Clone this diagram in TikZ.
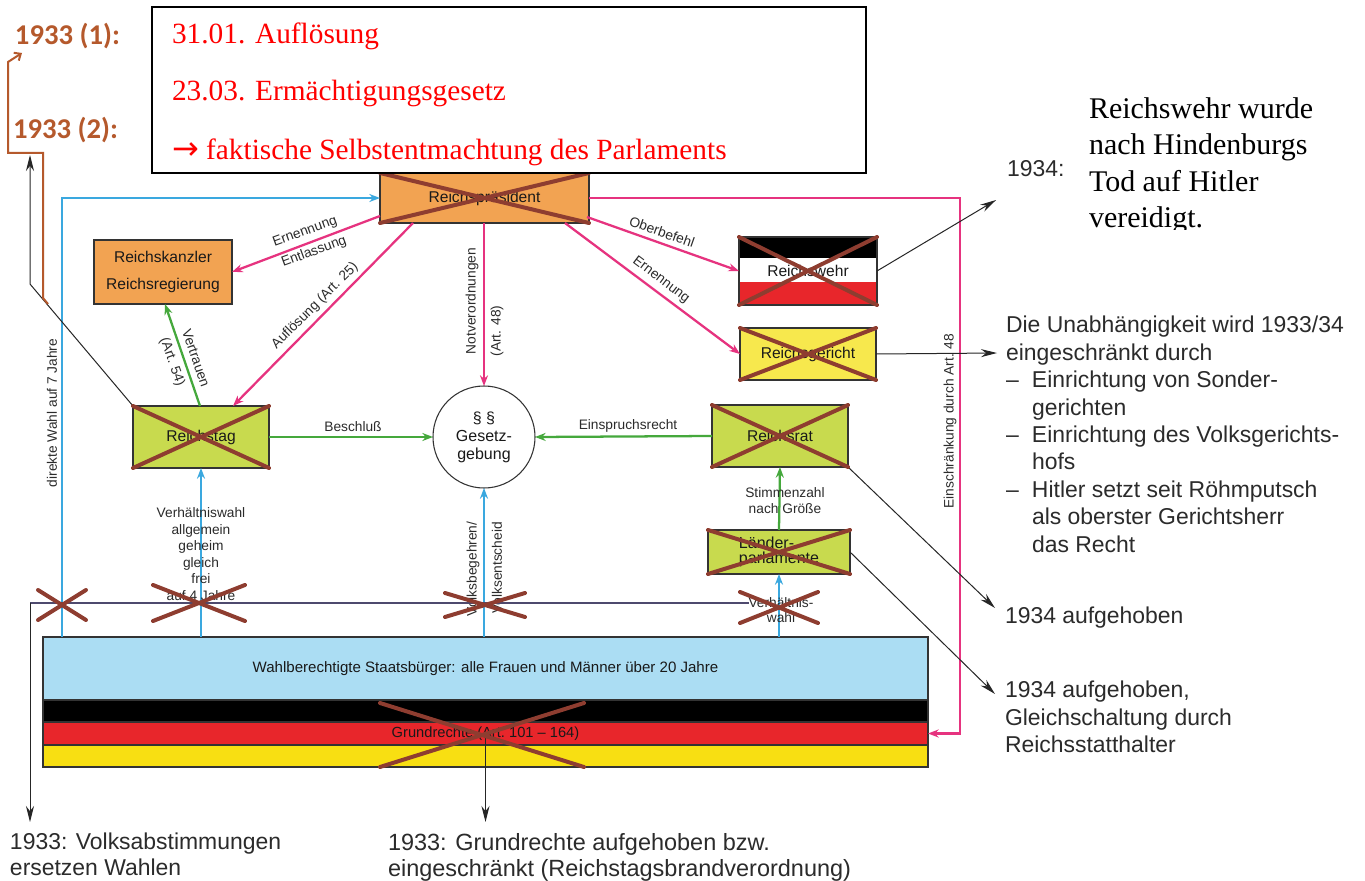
\documentclass[tikz,border=0pt]{standalone}
\usepackage{fontspec}
\setmainfont{Liberation Sans}
\newfontfamily\tnr{Liberation Serif}
\newfontfamily\calfont{Carlito}
\newfontfamily\djv{DejaVu Sans}
\usetikzlibrary{arrows.meta,calc}
\definecolor{mag}{HTML}{E6337F}
\definecolor{blu}{HTML}{3AA8DF}
\definecolor{grn}{HTML}{45A83C}
\definecolor{orng}{HTML}{F2A352}
\definecolor{ygrn}{HTML}{C8DA4E}
\definecolor{ylw}{HTML}{F7E84D}
\definecolor{lblu}{HTML}{ABDDF3}
\definecolor{fred}{HTML}{E8262B}
\definecolor{fylw}{HTML}{F8DF12}
\definecolor{xbrn}{HTML}{8E3D30}
\definecolor{tbrn}{HTML}{B5592C}
\definecolor{lbl}{HTML}{2B2B2B}
\definecolor{hlc}{HTML}{4E4A6E}
\begin{document}
\begin{tikzpicture}[x=0.75pt,y=-0.75pt,
  every node/.style={inner sep=0pt, outer sep=0pt},
  bx/.style={draw=black!80, line width=0.8pt, font=\fontsize{11.7}{14}\selectfont, text=black!90, align=center},
  lab/.style={font=\fontsize{10.3}{12.4}\selectfont, text=lbl, align=center},
  ann/.style={font=\fontsize{17.2}{20.6}\selectfont, text=lbl, align=left},
  redt/.style={font=\tnr\fontsize{22}{26}\selectfont, text=red},
  blkt/.style={font=\tnr\fontsize{22.5}{27}\selectfont, text=black},
  brt/.style={font=\calfont\bfseries\fontsize{21.5}{24}\selectfont, text=tbrn},
  magc/.style={draw=mag, line width=1.7pt, -{Stealth[length=8pt,width=6pt]}},
  bluc/.style={draw=blu, line width=1.9pt, -{Stealth[length=8pt,width=6pt]}},
  grnc/.style={draw=grn, line width=1.7pt, -{Stealth[length=8pt,width=6pt]}},
  blkc/.style={draw=black!85, line width=0.75pt, -{Stealth[length=12pt,width=6pt]}},
  brnc/.style={draw=tbrn, line width=1.5pt, -{Straight Barb[length=4pt,width=7pt]}},
  xl/.style={draw=xbrn, line width=3pt, line cap=round},
  hl/.style={draw=hlc, line width=1pt}
]
\fill[white] (0,0) rectangle (1365,881);
\useasboundingbox (0,0) rectangle (1365,881);

% ---------- boxes ----------
\node[bx, fill=orng, minimum width=156.75pt, minimum height=37.5pt] (rp) at (484.5,198) {Reichspräsident};
\node[bx, fill=orng, minimum width=103.5pt, minimum height=48pt, font=\fontsize{11.7}{20.25}\selectfont] (rk) at (163,272) {Reichskanzler\\Reichsregierung};
\node[bx, fill=ygrn, minimum width=102pt, minimum height=46.5pt] (rt) at (201,437) {Reichstag};
\node[bx, circle, fill=white, minimum size=76.5pt, font=\fontsize{12}{13.5}\selectfont] (gz) at (484,437) {§ §\\Gesetz-\\gebung};
\node[bx, fill=ygrn, minimum width=102pt, minimum height=46.5pt] (rr) at (780,436) {Reichsrat};
\node[bx, fill=ygrn, minimum width=106.5pt, minimum height=33pt, align=left, font=\fontsize{12}{11.5}\selectfont] (lp) at (779,552) {Länder-\\parlamente};
\node[bx, fill=white, minimum width=103.5pt, minimum height=51pt,
  path picture={
    \fill[black] (path picture bounding box.north west) rectangle ($(path picture bounding box.north east)!0.31!(path picture bounding box.south east)$);
    \fill[fred] ($(path picture bounding box.north west)!0.66!(path picture bounding box.south west)$) rectangle (path picture bounding box.south east);
  }] (rw) at (808,271) {Reichswehr};
\node[bx, fill=ylw, minimum width=102pt, minimum height=39pt] (rg) at (808,354) {Reichsgericht};

\node[bx, fill=lblu, minimum width=663.75pt, minimum height=47.25pt, font=\fontsize{11.3}{13}\selectfont] (wb) at (485.5,668.5) {Wahlberechtigte Staatsbürger: alle Frauen und Männer über 20 Jahre};
\node[bx, fill=black, minimum width=663.75pt, minimum height=16.5pt] (fb) at (485.5,711) {};
\node[bx, fill=fred, minimum width=663.75pt, minimum height=17.25pt, font=\fontsize{11}{13}\selectfont] (fr) at (485.5,733.5) {Grundrechte (Art.~101 – 164)};
\node[bx, fill=fylw, minimum width=663.75pt, minimum height=16.5pt] (fy) at (485.5,756) {};

% ---------- annotation texts ----------
\node[brt, anchor=west] (l1) at (15,36) {1933 (1):};
\node[brt, anchor=west] (l2) at (13,130) {1933 (2):};
\node[ann, anchor=base west] (t1934) at (1007,176) {1934:};
\node[ann, anchor=north west] (tu) at (1006,316) {Die Unabhängigkeit wird 1933/34\\
eingeschränkt durch\\
\makebox[19.5pt][l]{–}Einrichtung von Sonder-\\
\hspace*{19.5pt}gerichten\\
\makebox[19.5pt][l]{–}Einrichtung des Volksgerichts-\\
\hspace*{19.5pt}hofs\\
\makebox[19.5pt][l]{–}Hitler setzt seit Röhmputsch\\
\hspace*{19.5pt}als oberster Gerichtsherr\\
\hspace*{19.5pt}das Recht};
\node[ann, anchor=base west] (ta) at (1005,623) {1934 aufgehoben};
\node[ann, anchor=north west] (tg) at (1005,681) {1934 aufgehoben,\\Gleichschaltung durch\\Reichsstatthalter};
\node[ann, anchor=north west, font=\fontsize{17.2}{19.5}\selectfont] (vol) at (10,833) {1933: Volksabstimmungen\\ersetzen Wahlen};
\node[ann, anchor=north west, font=\fontsize{17.6}{19.5}\selectfont] (gr) at (388,833) {1933: Grundrechte aufgehoben bzw.\\eingeschränkt (Reichstagsbrandverordnung)};

% free ends
\coordinate (e1) at (22,53);
\coordinate (e2) at (30,155);
\coordinate (eRW) at (996,200);
\coordinate (eRG) at (997,353);
\coordinate (eRR) at (995,608);
\coordinate (eLP) at (995,694);

% ---------- connectors ----------
\draw[bluc] (wb.north -| 62,0) |- (rp.west);
\draw[bluc] (wb.north -| rt.south) -- (rt.south);
\draw[bluc] (wb.north -| gz.south) -- (gz.south);
\draw[bluc] (wb.north -| lp.south) -- (lp.south);

\draw[magc] ($(rp.south west)!0.14!(rp.north west)$) -- (rk.east);
\draw[magc] ($(rp.south west)+(33,0)$) -- ($(rt.north)+(32,0)$);
\draw[magc] (rp.south -| gz.north) -- (gz.north);
\draw[magc] ($(rp.south east)+(-2,-6)$) -- (rw.west);
\draw[magc] ($(rp.south east)+(-24,0)$) -- (rg.west);
\draw[magc] (rp.east) -- (960,0 |- rp.east) -- (960,0 |- fr.east) -- (fr.east);

\draw[grnc] ($(rt.north)+(-1,0)$) -- ($(rk.south)+(2,0)$);
\draw[grnc] (rt.east) -- (gz.west);
\draw[grnc] (rr.west) -- (gz.east);
\draw[grnc] (lp.north) -- (rr.south);

\draw[blkc] (rt.north west) -- (30,284) -- (e2);
\draw[brnc] (48,304) -- (43,298) -- (43,153) -- (8,153) -- (8,62) -- (e1);
\draw[blkc] (rw.east) -- (eRW);
\draw[blkc] (rg.east) -- (eRG);
\draw[blkc] (rr.south east) -- (eRR);
\draw[blkc] (lp.east) -- (eLP);

% ---------- labels ----------
\node[lab, rotate=20] at (305,232) {Ernennung};
\node[lab, rotate=20] at (314,252) {Entlassung};
\node[lab, rotate=45] at (315,306) {Auflösung (Art. 25)};
\node[lab, rotate=-70.7] at (196,358) {Vertrauen};
\node[lab, rotate=-70.7] at (172,362) {(Art. 54)};
\node[lab, rotate=90] at (472,301) {Notverordnungen};
\node[lab, rotate=90] at (497,331) {(Art. 48)};
\node[lab, rotate=-19.5] at (662,232) {Oberbefehl};
\node[lab, rotate=-37] at (661,280) {Ernennung};
\node[lab, rotate=90] at (950,421) {Einschränkung durch Art. 48};
\node[lab, rotate=90] at (52,413) {direkte Wahl auf 7 Jahre};
\node[lab] at (353,427) {Beschluß};
\node[lab] at (628,426) {Einspruchsrecht};
\node[lab, font=\fontsize{10.3}{12}\selectfont] at (785,501) {Stimmenzahl\\nach Größe};
\node[lab] (vrt) at (201,554) {Verhältniswahl\\allgemein\\geheim\\gleich\\frei\\auf 4 Jahre};
\node[lab, rotate=90] at (473,569) {Volksbegehren/};
\node[lab, rotate=90] at (497,568) {Volksentscheid};
\node[lab, font=\fontsize{10.3}{11.5}\selectfont] (vw) at (781,610) {Verhältnis-\\wahl};

% horizontal line and down arrows
\draw[hl] (vw.west |- 0,603) -- (30,603) coordinate (hlL);
\draw[blkc] (hlL) -- (hlL |- 0,822);
\draw[blkc] (fr.center) -- (fr.center |- 0,822);

% ---------- crosses ----------
\foreach \n in {rp,rt,rr,lp,rw,rg}{
  \draw[xl] (\n.north west) -- (\n.south east);
  \draw[xl] (\n.south west) -- (\n.north east);
}
\draw[xl] (38,590) -- (86,620) (38,620) -- (86,590);
\draw[xl] (153,585) -- (245,621) (153,621) -- (245,585);
\draw[xl] (445,617) -- (525,593) (445,593) -- (525,617);
\draw[xl] (740,592) -- (818,623) (740,623) -- (818,592);
\draw[xl] (380,703) -- (584,767) (380,767) -- (584,703);

% ---------- red text box ----------
\node[draw=black, line width=1.1pt, fill=white, minimum width=535.5pt, minimum height=124.5pt] (tb) at (509,90) {};
\begin{scope}
\clip (tb.north west) rectangle ($(tb.south east)+(0,-1.5)$);
\node[redt, anchor=base west] (r1) at (172,44) {31.01. Auflösung};
\node[redt, anchor=base west] (r2) at (172,101) {23.03. Ermächtigungsgesetz};
\node[redt, anchor=base west] (r3) at (172,160) {{\djv\fontsize{24}{26}\selectfont →} faktische Selbstentmachtung des Parlaments};
\end{scope}
\begin{scope}
\clip (1080,80) rectangle (1365,229);
\node[blkt, anchor=base west] (h1) at (1089,118) {Reichswehr wurde};
\node[blkt, anchor=base west] (h2) at (1089,155) {nach Hindenburgs};
\node[blkt, anchor=base west] (h3) at (1089,191) {Tod auf Hitler};
\node[blkt, anchor=base west] (h4) at (1089,227) {vereidigt.};
\end{scope}
\end{tikzpicture}
\end{document}
